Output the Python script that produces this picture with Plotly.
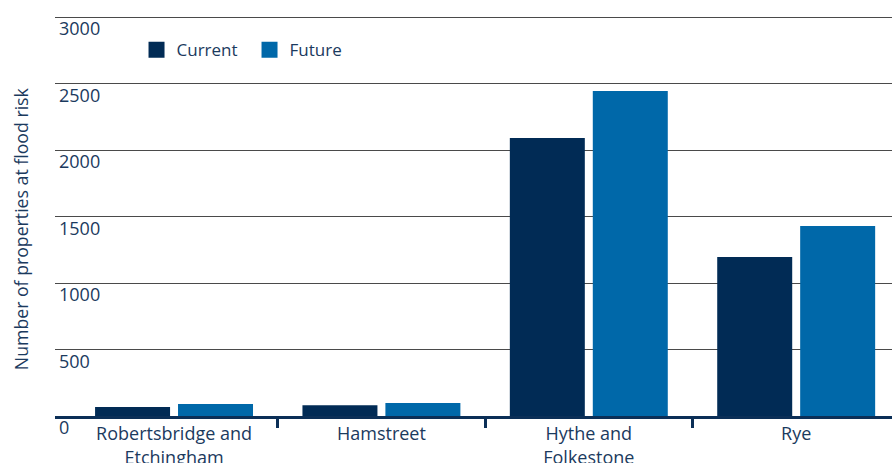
import plotly.graph_objects as go

categories = ["Robertsbridge and<br>Etchingham", "Hamstreet", "Hythe and<br>Folkestone", "Rye"]
current = [68, 80, 2090, 1196]
future = [90, 98, 2444, 1429]
y_ticks = [0, 500, 1000, 1500, 2000, 2500, 3000]
series_names = ["Current", "Future"]
colors = ["#012b55", "#0068a9"]
text_color = "#1b3a5e"
FONT = "Open Sans"

idx = list(range(len(categories)))

fig = go.Figure()
for name, vals, col in zip(series_names, [current, future], colors):
    fig.add_trace(go.Bar(x=idx, y=vals, name=name, marker=dict(color=col, line=dict(width=0)),
                         showlegend=False))
    fig.add_trace(go.Scatter(x=[None], y=[None], mode="markers", name=name,
                             marker=dict(symbol="square", size=16, color=col, line=dict(width=0))))

fig.update_layout(
    width=892, height=463,
    margin=dict(l=55, r=0, t=15, b=47, autoexpand=False),
    paper_bgcolor="white", plot_bgcolor="white",
    font=dict(family=FONT, size=18, color=text_color),
    barmode="group", bargap=0.2, bargroupgap=0.096,
    showlegend=True,
    legend=dict(orientation="h", x=0.0974, y=0.957, xanchor="left", yanchor="top",
                bgcolor="rgba(0,0,0,0)", font=dict(size=17, color=text_color),
                itemsizing="trace", entrywidth=68, entrywidthmode="pixels"),
    xaxis=dict(
        range=[-0.574, 3.462], tickmode="array", tickvals=idx, ticktext=categories,
        ticks="", showgrid=False, zeroline=False, automargin=False,
        showline=True, linecolor="#0b2f57", linewidth=2.5,
        tickfont=dict(size=18, color=text_color),
        minor=dict(tickmode="array", tickvals=[0.5, 1.5, 2.5], ticks="outside",
                   ticklen=9, tickwidth=2.5, tickcolor="#0b2f57", showgrid=False),
    ),
    yaxis=dict(
        range=[0, 3015], tickmode="array", tickvals=y_ticks,
        ticktext=[str(v) for v in y_ticks], automargin=False,
        showgrid=True, gridcolor="#4a4a4a", gridwidth=1.3, zeroline=False,
        showline=False, ticks="",
        ticklabelposition="inside", ticklabelshift=12, ticklabeloverflow="allow",
        ticklabelstandoff=1,
        tickfont=dict(size=18, color=text_color),
    ),
)
fig.add_annotation(text="Number of properties at flood risk", textangle=-90,
                   xref="paper", yref="paper", x=0, xshift=-34, y=0.466,
                   xanchor="center", yanchor="middle", showarrow=False,
                   font=dict(size=17.7, color=text_color, family=FONT))

fig.write_html("out.html")
